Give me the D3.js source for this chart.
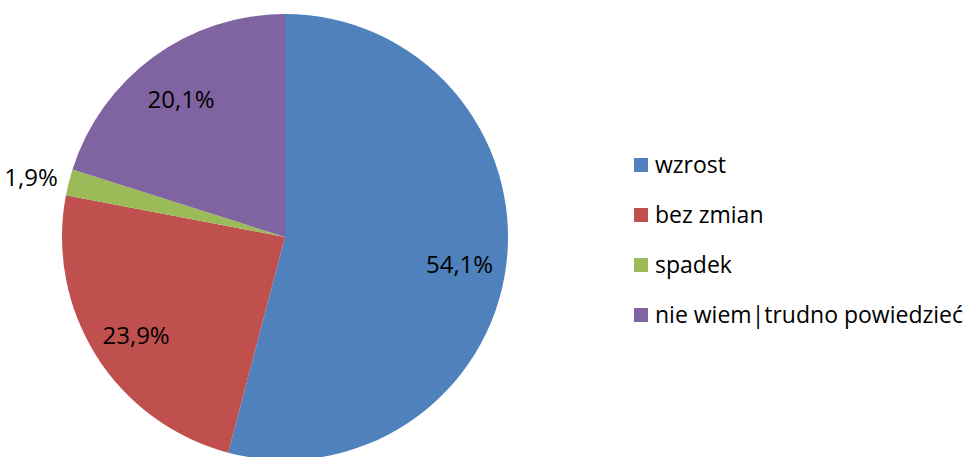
<!DOCTYPE html>
<html>
<head>
  <meta charset="utf-8">
  <title>Pie</title>
  <style>
    body { margin: 0; background: #fff; }
    text { font-family: "Open Sans", "Noto Sans", sans-serif; fill: #000; }
  </style>
</head>
<body>
  <div id="chart"></div>
  <script src="https://cdn.jsdelivr.net/npm/d3@7"></script>
  <script>
    // dane
    let categories = ['wzrost', 'bez zmian', 'spadek', 'nie wiem|trudno powiedzieć'];
    let values = [54.1, 23.9, 1.9, 20.1];
    let colors = ['#4F81BD', '#C0504D', '#9BBB59', '#8064A2'];

    let svgWidth = 969;
    let svgHeight = 457;
    let cx = 285, cy = 237, radius = 223;

    function translate(x, y) {
      return 'translate(' + x + ',' + y + ')';
    }

    let svg = d3.select('#chart')
      .append('svg')
        .attr('width', svgWidth)
        .attr('height', svgHeight);

    let color = d3.scaleOrdinal().domain(categories).range(colors);

    let pie = d3.pie().sort(null).value(d => d.value);
    let arcs = pie(categories.map((c, i) => ({ name: c, value: values[i] })));

    let arc = d3.arc().innerRadius(0).outerRadius(radius);
    let labelArc = d3.arc().innerRadius(176).outerRadius(176);
    let outerArc = d3.arc().innerRadius(262).outerRadius(262);

    let g = svg.append('g').attr('transform', translate(cx, cy));

    g.selectAll('path')
      .data(arcs)
      .enter()
        .append('path')
        .attr('d', arc)
        .attr('fill', d => color(d.data.name));

    // etykiety - mały wycinek poza kołem
    g.selectAll('text.lbl')
      .data(arcs)
      .enter()
        .append('text')
        .attr('class', 'lbl')
        .attr('transform', d => {
          let p = d.data.value < 5 ? outerArc.centroid(d) : labelArc.centroid(d);
          return translate(p[0], p[1] + 5);
        })
        .attr('dy', '0.35em')
        .attr('text-anchor', 'middle')
        .style('font-size', '24px')
        .text(d => d.data.value.toFixed(1).replace('.', ',') + '%');

    // legenda
    let legend = svg.append('g').attr('transform', translate(634, 165));
    let rows = legend.selectAll('g')
      .data(categories)
      .enter()
        .append('g')
        .attr('transform', (d, i) => translate(0, i * 50));
    rows.append('rect')
      .attr('x', 0).attr('y', -7)
      .attr('width', 14).attr('height', 14)
      .attr('fill', d => color(d));
    rows.append('text')
      .attr('x', 21)
      .attr('dy', '0.35em')
      .style('font-size', '23px')
      .text(d => d);
  </script>
</body>
</html>
